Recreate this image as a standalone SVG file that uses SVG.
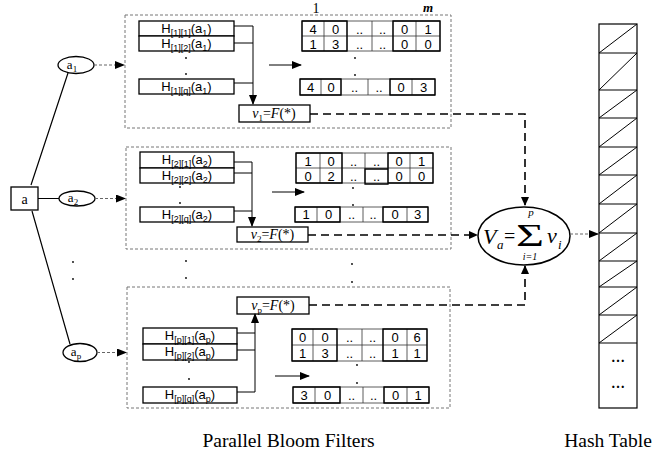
<svg xmlns="http://www.w3.org/2000/svg" width="661" height="461" viewBox="0 0 661 461">
<defs>
<marker id="ah" markerWidth="10" markerHeight="8" refX="9" refY="4" orient="auto" markerUnits="userSpaceOnUse">
<path d="M0,0 L10,4 L0,8 Z" fill="#000"/>
</marker>
<style>
.grp{fill:none;stroke:#777;stroke-width:1;stroke-dasharray:3,2}
.box{fill:#fff;stroke:#000;stroke-width:1.3}
.cell{fill:none;stroke:#333;stroke-width:0.8}
.thk{fill:none;stroke:#000;stroke-width:1.3}
.ln{fill:none;stroke:#000;stroke-width:1.2}
.thin{fill:none;stroke:#000;stroke-width:1}
.dsh{fill:none;stroke:#000;stroke-width:1.6;stroke-dasharray:8,5}
.tdsh{fill:none;stroke:#666;stroke-width:1;stroke-dasharray:3,2}
.sans{font-family:"Liberation Sans",Arial,sans-serif;font-size:13px;fill:#000}
.num{font-family:"Liberation Sans",Arial,sans-serif;font-size:13px;fill:#000;text-anchor:middle}
.ser{font-family:"Liberation Serif","Times New Roman",serif;fill:#000}
.dot{fill:#000}
</style>
</defs>

<!-- left input -->
<g id="node-a">
<rect x="11" y="187" width="27" height="23" class="box"/>
<text x="24.5" y="204" class="ser" font-size="14" text-anchor="middle">a</text>
</g>
<g id="node-a1">
<ellipse cx="76" cy="65" rx="18" ry="8.5" class="box"/>
<text x="72" y="69" class="ser" font-size="13" text-anchor="middle">a<tspan font-size="9" dy="3">1</tspan></text>
</g>
<g id="node-a2">
<ellipse cx="77" cy="198.5" rx="18" ry="7.5" class="box"/>
<text x="73" y="202" class="ser" font-size="13" text-anchor="middle">a<tspan font-size="9" dy="3">2</tspan></text>
</g>
<g id="node-ap">
<ellipse cx="80" cy="352.5" rx="17" ry="9" class="box"/>
<text x="76" y="356" class="ser" font-size="13" text-anchor="middle">a<tspan font-size="9" dy="3">p</tspan></text>
</g>
<g id="left-dots">
<circle cx="73" cy="262" r="0.9" class="dot"/>
<circle cx="73" cy="279" r="0.9" class="dot"/>
</g>

<!-- Bloom filter 1 -->
<g id="bf1">
<rect x="125" y="15" width="326" height="113" class="grp"/>
<rect x="139" y="21" width="95" height="15" class="box"/>
<rect x="139" y="36" width="95" height="15" class="box"/>
<rect x="139" y="79" width="95" height="15" class="box"/>
<text x="186.5" y="33" class="sans" text-anchor="middle">H<tspan font-size="9" dy="3">[1][1]</tspan><tspan dy="-3">(a</tspan><tspan font-size="9" dy="3">1</tspan><tspan dy="-3">)</tspan></text>
<text x="186.5" y="48" class="sans" text-anchor="middle">H<tspan font-size="9" dy="3">[1][2]</tspan><tspan dy="-3">(a</tspan><tspan font-size="9" dy="3">1</tspan><tspan dy="-3">)</tspan></text>
<text x="186.5" y="91" class="sans" text-anchor="middle">H<tspan font-size="9" dy="3">[1][q]</tspan><tspan dy="-3">(a</tspan><tspan font-size="9" dy="3">1</tspan><tspan dy="-3">)</tspan></text>
<circle cx="186" cy="58" r="0.9" class="dot"/>
<circle cx="186" cy="74" r="0.9" class="dot"/>
<rect x="239" y="105" width="71" height="17" class="box"/>
<text x="274" y="118" class="ser" font-size="14" text-anchor="middle"><tspan font-style="italic">v</tspan><tspan font-size="9" dy="3">1</tspan><tspan dy="-3">=</tspan><tspan font-style="italic">F</tspan>(*)</text>
<path d="M302,21H440V51H302Z M302,36H440 M324,21V51 M347,21V51 M372,21V51 M393,21V51 M416,21V51" class="cell"/>
<path d="M302,21H347V51H302Z M393,21H440V51H393Z" class="thk"/>
<text class="num" y="34"><tspan x="313">4</tspan><tspan x="335.5">0</tspan><tspan x="359.5">..</tspan><tspan x="382.5">..</tspan><tspan x="404.5">0</tspan><tspan x="428">1</tspan></text>
<text class="num" y="49"><tspan x="313">1</tspan><tspan x="335.5">3</tspan><tspan x="359.5">..</tspan><tspan x="382.5">..</tspan><tspan x="404.5">0</tspan><tspan x="428">0</tspan></text>
<circle cx="355" cy="58" r="0.9" class="dot"/>
<circle cx="355" cy="75" r="0.9" class="dot"/>
<path d="M300,79H435V95H300Z M321,79V95 M341,79V95 M368,79V95 M390,79V95 M412,79V95" class="cell"/>
<path d="M300,79H341V95H300Z M390,79H435V95H390Z" class="thk"/>
<text class="num" y="92"><tspan x="310.5">4</tspan><tspan x="331">0</tspan><tspan x="354.5">..</tspan><tspan x="379">..</tspan><tspan x="401">0</tspan><tspan x="423.5">3</tspan></text>
<text x="316" y="13" class="ser" font-size="14" text-anchor="middle">1</text>
<text x="428" y="12" class="ser" font-size="13" font-style="italic" font-weight="bold" text-anchor="middle">m</text>
</g>

<!-- Bloom filter 2 -->
<g id="bf2">
<rect x="126" y="147" width="325" height="102" class="grp"/>
<rect x="140" y="152" width="94" height="16" class="box"/>
<rect x="140" y="168" width="94" height="15" class="box"/>
<rect x="140" y="207" width="94" height="15" class="box"/>
<text x="187" y="164" class="sans" text-anchor="middle">H<tspan font-size="9" dy="3">[2][1]</tspan><tspan dy="-3">(a</tspan><tspan font-size="9" dy="3">2</tspan><tspan dy="-3">)</tspan></text>
<text x="187" y="180" class="sans" text-anchor="middle">H<tspan font-size="9" dy="3">[2][2]</tspan><tspan dy="-3">(a</tspan><tspan font-size="9" dy="3">2</tspan><tspan dy="-3">)</tspan></text>
<text x="187" y="219" class="sans" text-anchor="middle">H<tspan font-size="9" dy="3">[2][q]</tspan><tspan dy="-3">(a</tspan><tspan font-size="9" dy="3">2</tspan><tspan dy="-3">)</tspan></text>
<circle cx="180" cy="187" r="0.9" class="dot"/>
<circle cx="180" cy="203" r="0.9" class="dot"/>
<rect x="237" y="227" width="71" height="15" class="box"/>
<text x="272.5" y="239" class="ser" font-size="14" text-anchor="middle"><tspan font-style="italic">v</tspan><tspan font-size="9" dy="3">2</tspan><tspan dy="-3">=</tspan><tspan font-style="italic">F</tspan>(*)</text>
<path d="M296,153H433V183H296Z M296,168H433 M320,153V183 M342,153V183 M365,153V183 M388,153V183 M410,153V183" class="cell"/>
<path d="M296,153H342V183H296Z M388,153H433V183H388Z M365,169H388V184H365Z" class="thk"/>
<text class="num" y="166"><tspan x="308">1</tspan><tspan x="331">0</tspan><tspan x="353.5">..</tspan><tspan x="376.5">..</tspan><tspan x="399">0</tspan><tspan x="421.5">1</tspan></text>
<text class="num" y="181"><tspan x="308">0</tspan><tspan x="331">2</tspan><tspan x="353.5">..</tspan><tspan x="376.5">..</tspan><tspan x="399">0</tspan><tspan x="421.5">0</tspan></text>
<circle cx="353" cy="188" r="0.9" class="dot"/>
<circle cx="353" cy="205" r="0.9" class="dot"/>
<path d="M295,207H428V222H295Z M317,207V222 M340,207V222 M363,207V222 M383,207V222 M407,207V222" class="cell"/>
<path d="M295,207H340V222H295Z M383,207H428V222H383Z" class="thk"/>
<text class="num" y="219"><tspan x="306">1</tspan><tspan x="328.5">0</tspan><tspan x="351.5">..</tspan><tspan x="373">..</tspan><tspan x="395">0</tspan><tspan x="417.5">3</tspan></text>
</g>

<!-- middle dots -->
<g id="mid-dots">
<circle cx="186" cy="261" r="0.9" class="dot"/>
<circle cx="186" cy="278" r="0.9" class="dot"/>
<circle cx="352" cy="264" r="0.9" class="dot"/>
<circle cx="352" cy="282" r="0.9" class="dot"/>
</g>

<!-- Bloom filter p -->
<g id="bfp">
<rect x="127" y="287" width="323" height="121" class="grp"/>
<rect x="237" y="297" width="72" height="17" class="box"/>
<text x="273" y="310" class="ser" font-size="14" text-anchor="middle"><tspan font-style="italic">v</tspan><tspan font-size="9" dy="3">p</tspan><tspan dy="-3">=</tspan><tspan font-style="italic">F</tspan>(*)</text>
<rect x="143" y="328" width="94" height="16" class="box"/>
<rect x="143" y="344" width="94" height="16" class="box"/>
<rect x="143" y="387" width="94" height="16" class="box"/>
<text x="190" y="340" class="sans" text-anchor="middle">H<tspan font-size="9" dy="3">[p][1]</tspan><tspan dy="-3">(a</tspan><tspan font-size="9" dy="3">p</tspan><tspan dy="-3">)</tspan></text>
<text x="190" y="356" class="sans" text-anchor="middle">H<tspan font-size="9" dy="3">[p][2]</tspan><tspan dy="-3">(a</tspan><tspan font-size="9" dy="3">p</tspan><tspan dy="-3">)</tspan></text>
<text x="190" y="399" class="sans" text-anchor="middle">H<tspan font-size="9" dy="3">[p][q]</tspan><tspan dy="-3">(a</tspan><tspan font-size="9" dy="3">p</tspan><tspan dy="-3">)</tspan></text>
<circle cx="189" cy="362" r="0.9" class="dot"/>
<circle cx="189" cy="379" r="0.9" class="dot"/>
<path d="M292,329H427V361H292Z M292,345H427 M313,329V361 M337,329V361 M362,329V361 M383,329V361 M407,329V361" class="cell"/>
<path d="M292,329H337V361H292Z M383,329H427V361H383Z" class="thk"/>
<text class="num" y="342"><tspan x="302.5">0</tspan><tspan x="325">0</tspan><tspan x="349.5">..</tspan><tspan x="372.5">..</tspan><tspan x="395">0</tspan><tspan x="417">6</tspan></text>
<text class="num" y="358"><tspan x="302.5">1</tspan><tspan x="325">3</tspan><tspan x="349.5">..</tspan><tspan x="372.5">..</tspan><tspan x="395">1</tspan><tspan x="417">1</tspan></text>
<circle cx="357" cy="365" r="0.9" class="dot"/>
<circle cx="357" cy="383" r="0.9" class="dot"/>
<path d="M293,387H429V403H293Z M315,387V403 M340,387V403 M363,387V403 M384,387V403 M407,387V403" class="cell"/>
<path d="M293,387H340V403H293Z M384,387H429V403H384Z" class="thk"/>
<text class="num" y="400"><tspan x="304">3</tspan><tspan x="327.5">0</tspan><tspan x="351.5">..</tspan><tspan x="373.5">..</tspan><tspan x="395.5">0</tspan><tspan x="418">1</tspan></text>
</g>

<!-- sum node -->
<g id="node-sum">
<ellipse cx="524" cy="236" rx="46" ry="29" fill="#fff" stroke="#000" stroke-width="1.5"/>
<text x="483" y="244" class="ser" font-size="22" font-style="italic">V</text>
<text x="497" y="249" class="ser" font-size="13" font-style="italic">a</text>
<text x="504" y="243" class="ser" font-size="20">=</text>
<text x="516" y="246" class="ser" font-size="32" textLength="28" lengthAdjust="spacingAndGlyphs">Σ</text>
<text x="531" y="216" class="ser" font-size="11" font-style="italic" text-anchor="middle">p</text>
<text x="530" y="260" class="ser" font-size="10" font-style="italic" text-anchor="middle">i=1</text>
<text x="547" y="243" class="ser" font-size="22" font-style="italic">v</text>
<text x="558" y="249" class="ser" font-size="13" font-style="italic">i</text>
</g>

<!-- hash table -->
<g id="hash-table">
<rect x="599" y="24" width="38" height="384" fill="#fff" stroke="#000" stroke-width="1.2"/>
<path d="M599,53H637 M599,90H637 M599,118H637 M599,147H637 M599,175H637 M599,204H637 M599,233H637 M599,261H637 M599,287H637 M599,315H637 M599,343H637" class="ln"/>
<path d="M599,53L637,24 M599,90L637,53 M599,118L637,90 M599,147L637,118 M599,175L637,147 M599,204L637,175 M599,233L637,204 M599,261L637,233 M599,287L637,261 M599,315L637,287 M599,343L637,315" class="thin"/>
<text x="618" y="362" class="ser" font-size="14" font-weight="bold" text-anchor="middle">…</text>
<text x="618" y="388" class="ser" font-size="14" font-weight="bold" text-anchor="middle">…</text>
</g>

<!-- connectors -->
<g id="connectors">
<path d="M31,185L68,73 M38,198.5H59 M32,211L70,344" class="ln"/>
<path d="M94,65H124" class="tdsh" marker-end="url(#ah)"/>
<path d="M95,198.5H125" class="tdsh" marker-end="url(#ah)"/>
<path d="M97,352.5H126" class="tdsh" marker-end="url(#ah)"/>
<path d="M234,26H253 M234,43H253 M234,83H253 M253,26V104" class="thin" marker-end="url(#ah)"/>
<path d="M234,162H252 M234,173H252 M234,211H252 M252,162V226" class="thin" marker-end="url(#ah)"/>
<path d="M237,333H255 M237,350H255 M237,392H255 M255,392V314" class="thin" marker-end="url(#ah)"/>
<path d="M269,65H301" class="thin" marker-end="url(#ah)"/>
<path d="M272,192H304" class="thin" marker-end="url(#ah)"/>
<path d="M275,376H309" class="thin" marker-end="url(#ah)"/>
<path d="M310,114H525V205" class="dsh"/>
<path d="M521,197L525,206L529,197Z" fill="#000"/>
<path d="M308,235H470" class="dsh"/>
<path d="M469,231L478,235L469,239Z" fill="#000"/>
<path d="M309,305H525V266" class="dsh"/>
<path d="M521,274L525,265L529,274Z" fill="#000"/>
<path d="M570,234H598" class="tdsh" marker-end="url(#ah)"/>
</g>

<text x="288.5" y="447" class="ser" font-size="19.5" text-anchor="middle">Parallel Bloom Filters</text>
<text x="608" y="447" class="ser" font-size="19.5" text-anchor="middle">Hash Table</text>
</svg>
